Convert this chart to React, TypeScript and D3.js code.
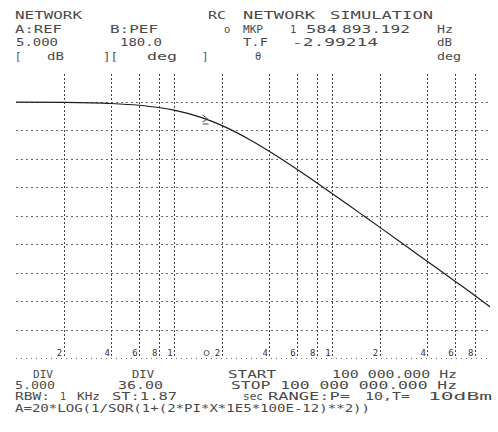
import React from "react";
import * as d3 from "d3";

// ---- data ----
const freqHz = [1e5, 2e5, 4e5, 6e5, 8e5, 1e6, 1.5e6, 2e6, 3e6, 4e6, 6e6, 8e6, 1e7, 1.5e7, 2e7, 3e7, 4e7, 6e7, 8e7, 1e8];
const magDb = [-0.02, -0.07, -0.27, -0.58, -0.98, -1.45, -2.76, -4.12, -6.59, -8.65, -11.82, -14.2, -16.07, -19.54, -22.0, -25.5, -28.0, -31.5, -34.0, -36.0];
const gridFreqs = [2e5, 4e5, 6e5, 8e5, 1e6, 2e6, 4e6, 6e6, 8e6, 1e7, 2e7, 4e7, 6e7, 8e7];
const gridLabels = ["2", "4", "6", "8", "1", "2", "4", "6", "8", "1", "2", "4", "6", "8"];
const dbGrid = [0, -5, -10, -15, -20, -25, -30, -35, -40];
const markerFreq = 1584893.192;
const markerDb = -2.99214;

// header / footer text tokens: [text, x, width]
const headRows: [string, number, number][][] = [
  [["NETWORK", 15, 67], ["RC", 208, 18], ["NETWORK", 243, 72], ["SIMULATION", 330, 103]],
  [["A:REF", 15, 47], ["B:PEF", 110, 48], ["o", 224, 6], ["MKP", 243, 20], ["1", 290, 5], ["584", 306, 31], ["893.192", 342, 68], ["Hz", 437, 16]],
  [["5.000", 16, 42], ["180.0", 120, 42], ["T.F", 243, 25], ["-2.99214", 292, 86], ["dB", 437, 15]],
  [["[", 15, 5], ["dB", 47, 17], ["][", 103, 15], ["deg", 147, 30], ["]", 202, 5], ["θ", 255, 6], ["deg", 437, 24]],
];
const headY = [19, 33, 46, 60];

const footRows: [string, number, number][][] = [
  [["DIV", 33, 20], ["DIV", 132, 22], ["START", 228, 48], ["100 000.000 Hz", 332, 125]],
  [["5.000", 15, 40], ["36.00", 118, 45], ["STOP 100 000 000.000 Hz", 231, 226]],
  [["RBW:", 15, 35], ["1", 60, 6], ["KHz", 77, 23], ["ST:1.87", 112, 65], ["sec", 243, 20], ["RANGE:P=", 268, 82], ["10,T=", 365, 45], ["10dBm", 428, 64]],
  [["A=20*LOG(1/SQR(1+(2*PI*X*1E5*100E-12)**2))", 15, 355]],
];
const footY = [378, 389, 400, 412];

const W = 498;
const H = 432;

export default function App() {
  const x = d3.scaleLog().domain([1e5, 1e8]).range([16, 490]);
  const y = d3.scaleLinear().domain([5, -45]).range([73.5, 358]);
  const pts = freqHz.map((f, i) => [f, magDb[i]] as [number, number]);
  const line = d3
    .line<[number, number]>()
    .x((d) => x(d[0]))
    .y((d) => y(d[1]))
    .curve(d3.curveMonotoneX);
  const mx = x(markerFreq);
  const my = y(markerDb);
  const font = "'DejaVu Sans Mono', monospace";
  const ink = "#4a4a4a";
  const px = (v: number) => Math.round(v) + 0.5;

  return (
    <div style={{ position: "absolute", left: 0, top: 0 }}>
      <svg width={W} height={H} style={{ display: "block", background: "#fff" }}>
        {/* horizontal grid */}
        {dbGrid.map((d) => (
          <line key={"h" + d} x1={16} x2={490} y1={px(y(d))} y2={px(y(d))} stroke="#6a6a6a" strokeWidth={1}
            strokeDasharray="2,3" shapeRendering="crispEdges" />
        ))}
        {/* bottom axis */}
        <line x1={16} x2={490} y1={px(y(-45))} y2={px(y(-45))} stroke="#6a6a6a" strokeWidth={1} strokeDasharray="1,4" shapeRendering="crispEdges" />
        {/* vertical grid */}
        {gridFreqs.map((f) => (
          <line key={"v" + f} x1={px(x(f))} x2={px(x(f))} y1={74} y2={357} stroke="#444" strokeWidth={1}
            strokeDasharray="2,2" shapeRendering="crispEdges" />
        ))}
        {/* axis labels */}
        {gridFreqs.map((f, i) => (
          <text key={"l" + f} x={x(f) - 4} y={356} fontFamily={font} fontSize={9} fill="#333" textAnchor="middle">
            {gridLabels[i]}
          </text>
        ))}
        <circle cx={mx + 1} cy={353} r={2.5} fill="none" stroke="#444" strokeWidth={0.9} />
        {/* curve */}
        <path d={line(pts) || ""} fill="none" stroke="#1c1c1c" strokeWidth={1.2} />
        {/* marker */}
        <path d={`M${mx - 3},${my - 4} L${mx + 2},${my} L${mx - 3},${my + 3} M${mx - 3},${my + 5} L${mx + 3},${my + 5}`} fill="none" stroke="#333" strokeWidth={0.9} />
        {/* header */}
        {headRows.map((row, r) =>
          row.map(([t, tx, tw], k) => (
            <text key={`h${r}-${k}`} x={tx} y={headY[r]} fontFamily={font} fontSize={10.5} fill={ink}
              textLength={t.length > 1 ? tw : undefined} lengthAdjust="spacingAndGlyphs">
              {t}
            </text>
          ))
        )}
        {/* footer */}
        {footRows.map((row, r) =>
          row.map(([t, tx, tw], k) => (
            <text key={`f${r}-${k}`} x={tx} y={footY[r]} fontFamily={font} fontSize={10} fill={ink}
              textLength={t.length > 1 ? tw : undefined} lengthAdjust="spacingAndGlyphs">
              {t}
            </text>
          ))
        )}
      </svg>
    </div>
  );
}
